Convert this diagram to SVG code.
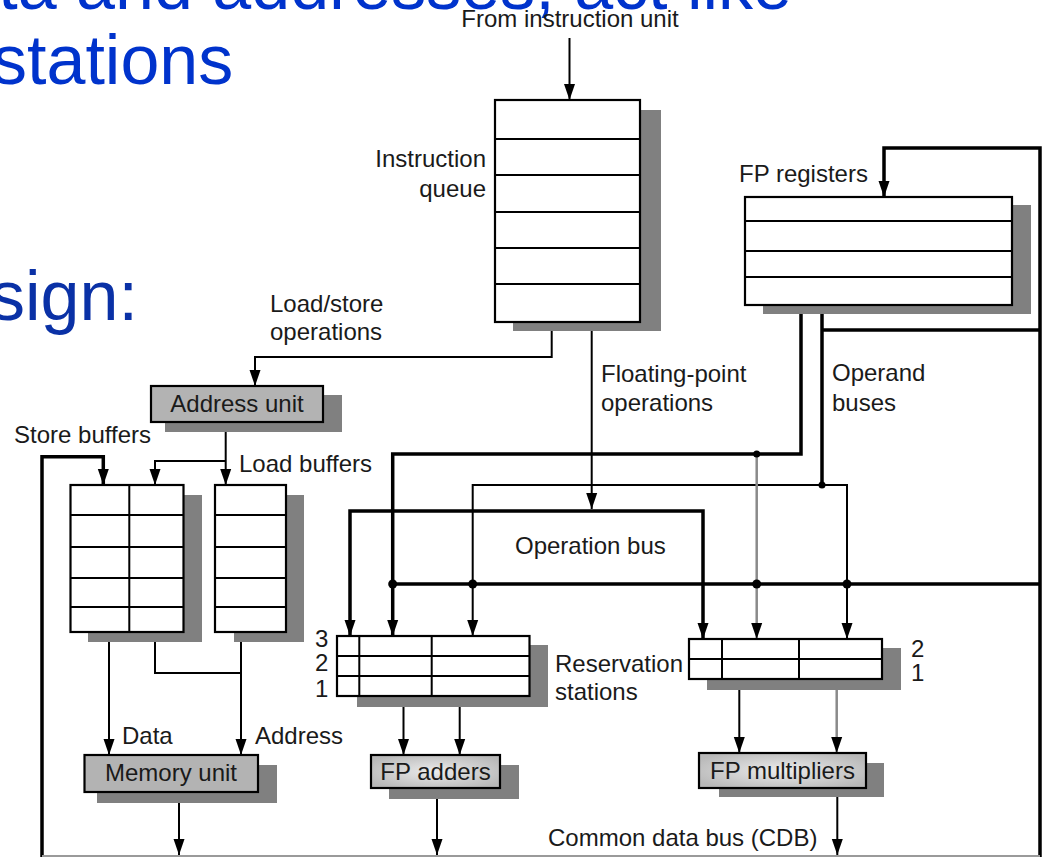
<svg xmlns="http://www.w3.org/2000/svg" width="1043" height="857" viewBox="0 0 1043 857">
<style>
.blue{font-family:"Liberation Sans",Arial,sans-serif;font-size:70px;fill:#0033cc}
.t{font-family:"Liberation Sans",Arial,sans-serif;font-size:24px;fill:#1a1a1a}
.box{fill:#fff;stroke:#000;stroke-width:2.2}
.sh{fill:#808080}
.row{stroke:#000;stroke-width:2;fill:none}
.thin{stroke:#000;stroke-width:2;fill:none}
.thick{stroke:#000;stroke-width:3.5;fill:none}
.gray{stroke:#8a8a8a;stroke-width:2.5;fill:none}
.unit{fill:#b3b3b3;stroke:#000;stroke-width:2.2}
.func{fill:url(#g);stroke:#000;stroke-width:2.2}
</style>
<defs>
<marker id="a" markerUnits="userSpaceOnUse" markerWidth="16" markerHeight="12" refX="16" refY="6" orient="auto-start-reverse">
<path d="M0,0.5 L16,6 L0,11.5 z" fill="#000"/>
</marker>
<radialGradient id="g" cx="0.5" cy="0.5" r="0.6">
<stop offset="0" stop-color="#ececec"/>
<stop offset="1" stop-color="#b8b8b8"/>
</radialGradient>
</defs>
<rect width="1043" height="857" fill="#fff"/>
<g id="slide-text">
<text class="blue" x="792" y="9" text-anchor="end">data and addresses, act like</text>
<text class="blue" x="-8" y="84">stations</text>
<text class="blue" x="-10" y="320" style="fill:#0a31a6">sign:</text>
</g>
<g id="connectors">
<path class="thin" d="M569.5,38 V100" marker-end="url(#a)"/>
<path class="thin" d="M551.7,322 V357 H255 V386" marker-end="url(#a)"/>
<path class="thin" d="M591.7,322 V509" marker-end="url(#a)"/>
<path class="thick" d="M350,636 V511 H703 V639" marker-start="url(#a)" marker-end="url(#a)"/>
<path class="thick" d="M801,305 V454 H392.7 V636" marker-end="url(#a)"/>
<path class="thick" d="M822,305 V485"/>
<path class="thin" d="M847,639 V485 H472.7 V636" marker-start="url(#a)" marker-end="url(#a)"/>
<path class="gray" d="M756.7,454 V639" marker-end="url(#a)"/>
<path class="thick" d="M392.7,584 H1040"/>
<path class="thick" d="M1040,857 V148 H884 V197" marker-end="url(#a)"/>
<path class="thick" d="M822,330 H1040"/>
<path class="thick" d="M42,857 V456.7 H103.3 V485" marker-end="url(#a)"/>
<path d="M42,856 H1040" stroke="#9a9a9a" stroke-width="2" fill="none"/>
<path class="thin" d="M225.7,422 V485" marker-end="url(#a)"/>
<path class="thin" d="M225.7,461 H155 V485" marker-end="url(#a)"/>
<path class="thin" d="M109,632 V755" marker-end="url(#a)"/>
<path class="thin" d="M155,632 V673 H241"/>
<path class="thin" d="M241,632 V755" marker-end="url(#a)"/>
<path class="thin" d="M403.5,696 V755" marker-end="url(#a)"/>
<path class="thin" d="M459.7,696 V755" marker-end="url(#a)"/>
<path class="thin" d="M739.3,679 V753" marker-end="url(#a)"/>
<path class="gray" d="M836.7,679 V753" marker-end="url(#a)"/>
<path class="thin" d="M179,792 V855" marker-end="url(#a)"/>
<path class="thin" d="M437,788 V855" marker-end="url(#a)"/>
<path class="thin" d="M837.3,788 V855" marker-end="url(#a)"/>
<g fill="#000">
<circle cx="392.7" cy="584" r="4.5"/>
<circle cx="472.7" cy="584" r="4.5"/>
<circle cx="756.7" cy="584" r="4.5"/>
<circle cx="847" cy="584" r="4.5"/>
<circle cx="756.7" cy="454" r="3.5"/>
<circle cx="822" cy="485" r="3.5"/>
</g>
<text class="t" x="570" y="27" text-anchor="middle">From instruction unit</text>
<text class="t" x="270" y="312">Load/store</text>
<text class="t" x="270" y="340">operations</text>
<text class="t" x="601" y="382">Floating-point</text>
<text class="t" x="601" y="411">operations</text>
<text class="t" x="832" y="381">Operand</text>
<text class="t" x="832" y="411">buses</text>
<text class="t" x="515" y="554">Operation bus</text>
<text class="t" x="122" y="744">Data</text>
<text class="t" x="255" y="744">Address</text>
<text class="t" x="548" y="846">Common data bus (CDB)</text>
</g>
<g id="instruction-queue">
<rect class="sh" x="513" y="110" width="148" height="221"/>
<rect class="box" x="495" y="100" width="145" height="222"/>
<path class="row" d="M495,139H640M495,175H640M495,212H640M495,248H640M495,284H640"/>
<text class="t" x="486" y="167" text-anchor="end">Instruction</text>
<text class="t" x="486" y="197" text-anchor="end">queue</text>
</g>
<g id="fp-registers">
<rect class="sh" x="763" y="205" width="268" height="109"/>
<rect class="box" x="745" y="197" width="267" height="108"/>
<path class="row" d="M745,221H1012M745,251H1012M745,277H1012"/>
<text class="t" x="739" y="182">FP registers</text>
</g>
<g id="address-unit">
<rect class="sh" x="165" y="395" width="177" height="37"/>
<rect class="unit" x="151" y="386" width="172" height="36"/>
<text class="t" x="237" y="412" text-anchor="middle">Address unit</text>
</g>
<g id="store-buffers">
<rect class="sh" x="88" y="495" width="114" height="147"/>
<rect class="box" x="70.5" y="485" width="113" height="147"/>
<path class="row" d="M70.5,515H183.5M70.5,547H183.5M70.5,578H183.5M70.5,607H183.5M129.3,485V632"/>
<text class="t" x="14" y="443">Store buffers</text>
</g>
<g id="load-buffers">
<rect class="sh" x="234" y="495" width="70" height="147"/>
<rect class="box" x="215" y="485" width="71" height="147"/>
<path class="row" d="M215,515H286M215,547H286M215,578H286M215,607H286"/>
<text class="t" x="239" y="472">Load buffers</text>
</g>
<g id="rs-adders">
<rect class="sh" x="357" y="645" width="191" height="62"/>
<rect class="box" x="337" y="636" width="192.5" height="60"/>
<path class="row" d="M337,656H529.5M337,676H529.5M359.3,636V696M431.7,636V696"/>
<text class="t" x="315" y="647">3</text>
<text class="t" x="315" y="671">2</text>
<text class="t" x="315" y="697">1</text>
<text class="t" x="555" y="672">Reservation</text>
<text class="t" x="555" y="700">stations</text>
</g>
<g id="rs-multipliers">
<rect class="sh" x="707" y="648" width="194" height="42"/>
<rect class="box" x="689" y="639" width="193" height="40"/>
<path class="row" d="M689,659H882M722,639V679M799,639V679"/>
<text class="t" x="911" y="657">2</text>
<text class="t" x="911" y="681">1</text>
</g>
<g id="memory-unit">
<rect class="sh" x="97" y="765" width="180" height="38"/>
<rect class="unit" x="84.5" y="755" width="173.5" height="37"/>
<text class="t" x="171" y="781" text-anchor="middle">Memory unit</text>
</g>
<g id="fp-adders">
<rect class="sh" x="389" y="765" width="130" height="34"/>
<rect class="func" x="371" y="755" width="129" height="33"/>
<text class="t" x="435.5" y="780" text-anchor="middle">FP adders</text>
</g>
<g id="fp-multipliers">
<rect class="sh" x="719" y="763" width="165" height="34"/>
<rect class="func" x="699" y="753" width="167" height="35"/>
<text class="t" x="782.5" y="779" text-anchor="middle">FP multipliers</text>
</g>
</svg>
